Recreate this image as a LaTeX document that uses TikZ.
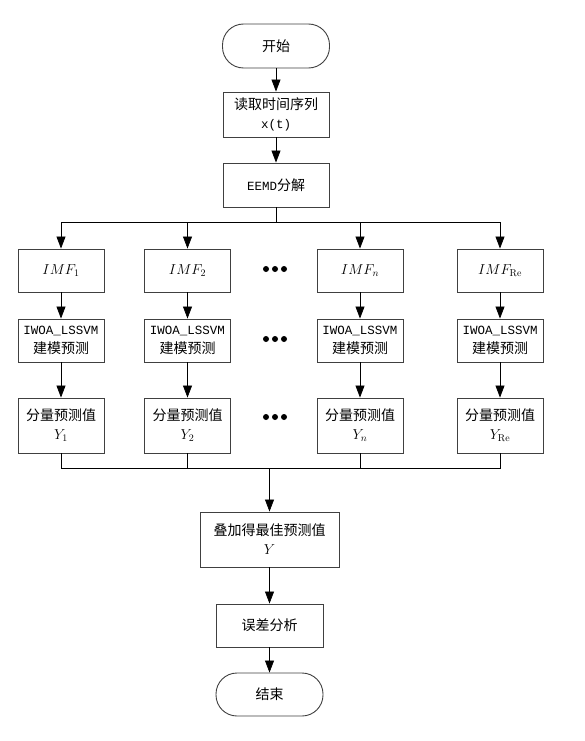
\documentclass[tikz,border=0pt]{standalone}
\usepackage[no-math]{fontspec}
\usepackage{amsmath}
\setmainfont{Noto Sans CJK SC}
\setmonofont{Liberation Mono}
\usetikzlibrary{arrows.meta}

\begin{document}
\begin{tikzpicture}[x=1pt,y=-1pt,
    box/.style={draw=black!75, line width=0.9pt, fill=white, minimum width=86pt,
      minimum height=43pt, align=center, inner sep=2pt,
      font=\fontsize{14pt}{19pt}\selectfont},
    pill/.style={box, rounded corners=21pt, minimum width=107pt, minimum height=44pt},
    flow/.style={-{Triangle[length=12pt,width=9pt]}, line width=0.7pt},
    link/.style={line width=0.7pt}]
    \useasboundingbox (0,0) rectangle (585,741);

    % Top of the chart
    \node[pill] (start) at (276,46) {开始};
    \node[box, minimum width=106pt, minimum height=45pt] (read) at (276,114.5) {读取时间序列\\\texttt{\fontsize{12.5pt}{19pt}\selectfont x(t)}};
    \node[box, minimum width=106pt, minimum height=44pt] (eemd) at (276,185) {\texttt{\fontsize{12.5pt}{19pt}\selectfont EEMD}分解};
    \coordinate (split) at (276,222);

    % IMF components
    \node[box] (imf1) at (61,270.5) {$IMF_1$};
    \node[box] (imf2) at (187.5,270.5) {$IMF_2$};
    \node[box] (imfn) at (360,270.5) {$IMF_n$};
    \node[box] (imfr) at (500,270.5) {$IMF_{\mathrm{Re}}$};

    % Model of each component
    \node[box] (lss1) at (61,340.5) {\texttt{\fontsize{12.5pt}{19pt}\selectfont IWOA\_LSSVM}\\建模预测};
    \node[box] (lss2) at (187.5,340.5) {\texttt{\fontsize{12.5pt}{19pt}\selectfont IWOA\_LSSVM}\\建模预测};
    \node[box] (lssn) at (360,340.5) {\texttt{\fontsize{12.5pt}{19pt}\selectfont IWOA\_LSSVM}\\建模预测};
    \node[box] (lssr) at (500,340.5) {\texttt{\fontsize{12.5pt}{19pt}\selectfont IWOA\_LSSVM}\\建模预测};

    % Predicted components
    \node[box, minimum height=55pt] (comp1) at (61,425.5) {分量预测值\\$Y_1$};
    \node[box, minimum height=55pt] (comp2) at (187.5,425.5) {分量预测值\\$Y_2$};
    \node[box, minimum height=55pt] (compn) at (360,425.5) {分量预测值\\$Y_n$};
    \node[box, minimum height=55pt] (compr) at (500,425.5) {分量预测值\\$Y_{\mathrm{Re}}$};

    % Dots between columns
    \foreach \y in {269,339,417}
      \foreach \dx in {-9,0,9}
        \fill (275+\dx,\y) circle (3pt);

    % Bottom of the chart
    \coordinate (join) at (269.5,468);
    \node[box, minimum width=139pt, minimum height=55pt] (sum) at (269.5,539.5) {叠加得最佳预测值\\$Y$};
    \node[box, minimum width=107pt] (err) at (269.5,625.5) {误差分析};
    \node[pill, minimum height=43pt] (stop) at (269.5,694.5) {结束};

    % Arrows
    \draw[flow] (start) -- (read);
    \draw[flow] (read) -- (eemd);
    \draw[link] (eemd) -- (split);
    \draw[flow] (split) -| (imf1);
    \draw[flow] (split) -| (imf2);
    \draw[flow] (split) -| (imfn);
    \draw[flow] (split) -| (imfr);
    \draw[flow] (imf1) -- (lss1);
    \draw[flow] (imf2) -- (lss2);
    \draw[flow] (imfn) -- (lssn);
    \draw[flow] (imfr) -- (lssr);
    \draw[flow] (lss1) -- (comp1);
    \draw[flow] (lss2) -- (comp2);
    \draw[flow] (lssn) -- (compn);
    \draw[flow] (lssr) -- (compr);
    \draw[link] (comp1) |- (join);
    \draw[link] (comp2) |- (join);
    \draw[link] (compn) |- (join);
    \draw[link] (compr) |- (join);
    \draw[flow] (join) -- (sum);
    \draw[flow] (sum) -- (err);
    \draw[flow] (err) -- (stop);
\end{tikzpicture}
\end{document}
